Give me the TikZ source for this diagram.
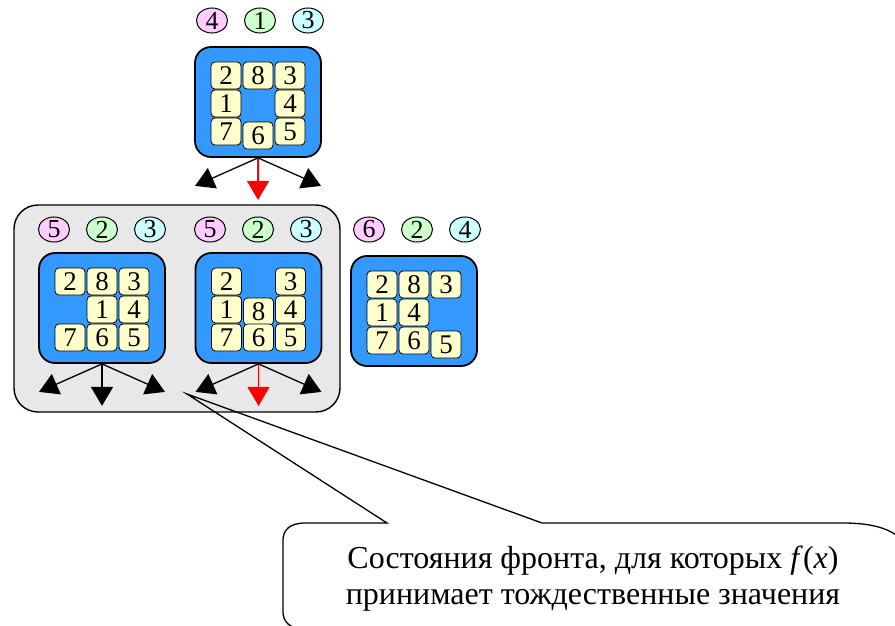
\documentclass[tikz,border=0pt]{standalone}
\usepackage{fontspec}
\setmainfont{LiberationSerif}[Extension=.ttf, UprightFont=*-Regular, ItalicFont=*-Italic, BoldFont=*-Bold, BoldItalicFont=*-BoldItalic]
\usetikzlibrary{arrows.meta, calc, positioning, shapes.geometric}
\definecolor{boardblue}{HTML}{3399FF}
\definecolor{tilecol}{HTML}{FFFFCC}
\definecolor{fcol}{HTML}{FFCCFF}
\definecolor{gcol}{HTML}{CCFFCC}
\definecolor{hcol}{HTML}{CCFFFF}
\definecolor{frontgray}{HTML}{E8E8E8}
\tikzset{
board/.style={draw, line width=1.8pt, fill=boardblue, rounded corners=16pt, minimum width=126pt, minimum height=110pt}, % blue frame of a position
tile/.style={draw, line width=0.8pt, fill=tilecol, rounded corners=4pt, minimum width=30pt, minimum height=27pt, inner sep=0pt, font=\fontsize{27}{27}\selectfont},
val/.style={ellipse, draw, line width=1pt, minimum width=31pt, minimum height=25pt, inner sep=0pt, font=\fontsize{26}{26}\selectfont},
front/.style={draw, line width=1.4pt, fill=frontgray, rounded corners=24pt, minimum width=326pt, minimum height=207pt},
move/.style={-{Triangle[width=22pt,length=19pt]}, line width=1.3pt}, % successor of a position
best/.style={move, red},
}
\newcommand{\tiles}[2]{% board, list of column/row/number/shift
  \foreach \c/\r/\t/\d in {#2}
    \node[tile] (#1-\t) at ($(#1)+(-32+32*\c,-26.5+28*\r+\d)$) {\t};}
\newcommand{\vals}[5]{% name, position, f, g, h
  \node[val, fill=fcol] (#1f) at (#2) {#3};
  \node[val, fill=gcol, right=16pt of #1f] (#1g) {#4};
  \node[val, fill=hcol, right=16pt of #1g] (#1h) {#5};}

\begin{document}
\begin{tikzpicture}[x=1pt, y=-1pt]
  \useasboundingbox (0,0) rectangle (895,626);
  \clip (0,0) rectangle (895,626);
  % positions with equal f(x)
  \node[front] (grp) at (177,308.5) {};

  \node[board] (b0) at (258,102) {};
  \node[board] (b1) at (102,308) {};
  \node[board] (b2) at (258.5,308) {};
  \node[board] (b3) at (414,311) {};

  \tiles{b0}{0/0/2/0, 1/0/8/0, 2/0/3/0, 0/1/1/0, 2/1/4/0, 0/2/7/0, 1/2/6/4, 2/2/5/0}
  \tiles{b1}{0/0/2/0, 1/0/8/0, 2/0/3/0, 1/1/1/0, 2/1/4/0, 0/2/7/0, 1/2/6/0, 2/2/5/0}
  \tiles{b2}{0/0/2/0, 2/0/3/0, 0/1/1/0, 1/1/8/2, 2/1/4/0, 0/2/7/0, 1/2/6/0, 2/2/5/0}
  \tiles{b3}{0/0/2/0, 1/0/8/0, 2/0/3/0, 0/1/1/0, 1/1/4/0, 0/2/7/0, 1/2/6/0, 2/2/5/4}

  % f, g, h
  \vals{v0}{212,20.5}{4}{1}{3}
  \vals{v1}{54,229.5}{5}{2}{3}
  \vals{v2}{210,229.5}{5}{2}{3}
  \vals{v3}{369,229.5}{6}{2}{4}

  \foreach \b in {b0,b1,b2}{
    \coordinate (\b-l) at ($(\b.south)+(-63,28)$);
    \coordinate (\b-d) at ($(\b.south)+(0,42)$);
    \coordinate (\b-r) at ($(\b.south)+(63,28)$);
  }
  \draw[move] (b0.south) -- (b0-l);
  \draw[best] (b0.south) -- (b0-d);
  \draw[move] (b0.south) -- (b0-r);
  \draw[move] (b1.south) -- (b1-l);
  \draw[move] (b1.south) -- (b1-d);
  \draw[move] (b1.south) -- (b1-r);
  \draw[move] (b2.south) -- (b2-l);
  \draw[best] (b2.south) -- (b2-d);
  \draw[move] (b2.south) -- (b2-r);

  % callout
  \coordinate (tip) at (187,394);
  \draw[line width=1.3pt] (387,523) -- (tip) -- (542,523) -- (843,523)
    .. controls (885,523) and (908,535) .. (910,560) -- (910,629) -- (305,629)
    .. controls (290,629) and (283,622) .. (283,612) -- (283,540)
    .. controls (283,530) and (290,523) .. (305,523) -- cycle;
  \node[font=\fontsize{32}{36}\selectfont, align=center] (note) at (593,579)
    {Состояния фронта, для которых \textit{f}(\textit{x})\\принимает тождественные значения};
\end{tikzpicture}
\end{document}
